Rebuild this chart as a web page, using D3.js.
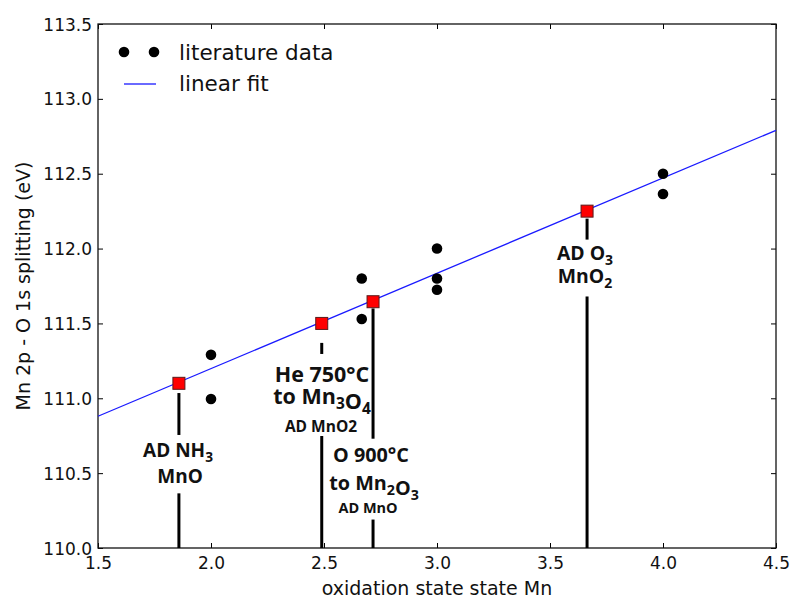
<!DOCTYPE html>
<html><head><meta charset="utf-8">
<script src="https://cdn.jsdelivr.net/npm/d3@7"></script>
<style>body{margin:0;background:#fff}svg{display:block}</style>
</head><body>
<svg id="c" width="790" height="601"></svg>
<script>
// ---- data ----
const litX = [2.0, 2.0, 2.667, 2.667, 3.0, 3.0, 3.0, 4.0, 4.0];
const litY = [111.29, 110.995, 111.80, 111.53, 112.0, 111.80, 111.725, 112.50, 112.365];
const fitX = [1.5, 4.5];
const fitY = [110.88, 112.79];
const sampleX = [1.858, 2.49, 2.717, 3.664];
const sampleY = [111.10, 111.50, 111.645, 112.25];
// vertical marker segments: [x, yTop, yBottom]
const segX  = [1.858, 1.858, 2.49, 2.49, 2.717, 2.717, 3.664, 3.664];
const segY1 = [111.035, 110.365, 111.37, 110.748, 111.60, 110.19, 112.20, 111.68];
const segY2 = [110.755, 110.0, 111.296, 110.0, 110.73, 110.0, 112.06, 110.0];
const xTicks = [1.5, 2.0, 2.5, 3.0, 3.5, 4.0, 4.5];
const yTicks = [110.0, 110.5, 111.0, 111.5, 112.0, 112.5, 113.0, 113.5];

const svg = d3.select("#c");
const L = 98, R = 776, T = 24, B = 548;
const x = d3.scaleLinear().domain([1.5, 4.5]).range([L, R]);
const y = d3.scaleLinear().domain([110, 113.5]).range([B, T]);
const tickFont = "DejaVu Sans, sans-serif";

// axes (classic matplotlib: inward ticks on all sides)
const gx = svg.append("g").attr("transform", `translate(0,${B})`)
  .call(d3.axisBottom(x).tickValues(xTicks).tickFormat(d3.format(".1f")).tickSizeInner(-5).tickSizeOuter(0).tickPadding(9));
const gxt = svg.append("g").attr("transform", `translate(0,${T})`)
  .call(d3.axisTop(x).tickValues(xTicks).tickFormat("").tickSizeInner(-5).tickSizeOuter(0));
const gy = svg.append("g").attr("transform", `translate(${L},0)`)
  .call(d3.axisLeft(y).tickValues(yTicks).tickFormat(d3.format(".1f")).tickSizeInner(-5).tickSizeOuter(0).tickPadding(6));
const gyr = svg.append("g").attr("transform", `translate(${R},0)`)
  .call(d3.axisRight(y).tickValues(yTicks).tickFormat("").tickSizeInner(-5).tickSizeOuter(0));
[gx, gxt, gy, gyr].forEach(g => {
  g.select(".domain").remove();
  g.selectAll("line").attr("stroke", "#000").attr("stroke-width", 1);
  g.selectAll("text").attr("font-family", tickFont).attr("font-size", 17).attr("fill", "#111");
});
gy.selectAll("text").attr("dy", "0.36em");
svg.append("rect").attr("x", L).attr("y", T).attr("width", R - L).attr("height", B - T)
  .attr("fill", "none").attr("stroke", "#111").attr("stroke-width", 1.3);

// axis labels
svg.append("text").attr("x", (L + R) / 2).attr("y", 595).attr("text-anchor", "middle")
  .attr("font-family", tickFont).attr("font-size", 19).attr("fill", "#111").text("oxidation state state Mn");
svg.append("text").attr("transform", `translate(30,${(T + B) / 2}) rotate(-90)`).attr("text-anchor", "middle")
  .attr("font-family", tickFont).attr("font-size", 19).attr("fill", "#111").text("Mn 2p - O 1s splitting (eV)");

// vertical marker segments
svg.append("g").selectAll("line").data(segX).join("line")
  .attr("x1", d => x(d)).attr("x2", d => x(d))
  .attr("y1", (d, i) => y(segY1[i])).attr("y2", (d, i) => y(segY2[i]))
  .attr("stroke", "#000").attr("stroke-width", 3);

// fit line
const line = d3.line().x(d => x(d[0])).y(d => y(d[1]));
svg.append("path").datum(fitX.map((d, i) => [d, fitY[i]])).attr("d", line)
  .attr("fill", "none").attr("stroke", "#1a1aff").attr("stroke-width", 1.3);

// literature dots
svg.append("g").selectAll("circle").data(litX).join("circle")
  .attr("cx", d => x(d)).attr("cy", (d, i) => y(litY[i])).attr("r", 5.3).attr("fill", "#000");

// sample squares
const s = 12;
svg.append("g").selectAll("rect").data(sampleX).join("rect")
  .attr("x", d => x(d) - s / 2).attr("y", (d, i) => y(sampleY[i]) - s / 2)
  .attr("width", s).attr("height", s).attr("fill", "#ff0000").attr("stroke", "#5a1a1a").attr("stroke-width", 1);

// legend
svg.append("circle").attr("cx", 124).attr("cy", 52).attr("r", 5.3).attr("fill", "#000");
svg.append("circle").attr("cx", 154).attr("cy", 52).attr("r", 5.3).attr("fill", "#000");
svg.append("text").attr("x", 179).attr("y", 60).attr("font-family", tickFont).attr("font-size", 21.5).attr("fill", "#111").text("literature data");
svg.append("line").attr("x1", 124).attr("x2", 156).attr("y1", 84).attr("y2", 84).attr("stroke", "#1a1aff").attr("stroke-width", 1.3);
svg.append("text").attr("x", 179).attr("y", 91).attr("font-family", tickFont).attr("font-size", 21.5).attr("fill", "#111").text("linear fit");

// annotations
const aFont = "'Open Sans', sans-serif";
function label(cx, yb, parts, size, anchor) {
  const t = svg.append("text").attr("x", cx).attr("y", yb).attr("text-anchor", anchor || "middle")
    .attr("font-family", aFont).attr("font-weight", 700).attr("font-size", size).attr("fill", "#111");
  parts.forEach(p => {
    if (typeof p === "string") t.append("tspan").text(p);
    else t.append("tspan").attr("font-size", size * 0.72).attr("dy", p.dy).text(p.t);
  });
  return t;
}
label(178, 457, ["AD NH", {t: "3", dy: 5}], 19);
label(180, 483, ["MnO"], 19);
label(322, 382, ["He 750°C"], 21.5);
label(322, 404, ["to Mn", {t: "3", dy: 5}, {t: "", dy: -5}, "O", {t: "4", dy: 5}], 21.5);
label(321, 432, ["AD MnO2"], 15.5);
label(371, 462, ["O 900°C"], 19.8);
label(374, 490, ["to Mn", {t: "2", dy: 5}, {t: "", dy: -5}, "O", {t: "3", dy: 5}], 19.8);
label(368, 513, ["AD MnO"], 14.5);
label(585, 260, ["AD O", {t: "3", dy: 5}], 19.4);
label(585, 283, ["MnO", {t: "2", dy: 5}], 19.4);
</script>
</body></html>
